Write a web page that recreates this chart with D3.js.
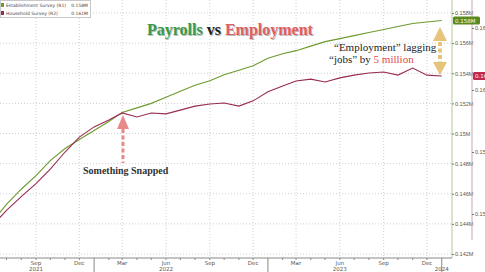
<!DOCTYPE html>
<html>
<head>
<meta charset="utf-8">
<script src="https://cdn.jsdelivr.net/npm/d3@7"></script>
<style>
  body { margin: 0; background: #fff; }
  svg { display: block; }
</style>
</head>
<body>
<div id="chart"></div>
<script>
// payrolls vs household employment, monthly Jun 2021 - Jan 2024 (values in "M" as on the bloomberg axis)
var months = ["2021-06","2021-07","2021-08","2021-09","2021-10","2021-11","2021-12",
  "2022-01","2022-02","2022-03","2022-04","2022-05","2022-06","2022-07","2022-08","2022-09","2022-10","2022-11","2022-12",
  "2023-01","2023-02","2023-03","2023-04","2023-05","2023-06","2023-07","2023-08","2023-09","2023-10","2023-11","2023-12",
  "2024-01"];
var payrolls = [0.1441,0.1453,0.1463,0.1472,0.1482,0.1490,0.1496,
  0.1502,0.1508,0.1514,0.1517,0.1520,0.1524,0.1528,0.1532,0.1535,0.1539,0.1542,0.1545,
  0.1550,0.1553,0.1555,0.1558,0.1561,0.1563,0.1565,0.1567,0.1569,0.1571,0.1573,0.1574,
  0.1575];
var household = [0.15661,0.15712,0.15756,0.15798,0.15845,0.15900,0.15948,
  0.15981,0.16003,0.16026,0.16013,0.16026,0.16023,0.16035,0.16048,0.16055,0.16058,0.16048,0.16065,
  0.16094,0.16113,0.16129,0.16135,0.16126,0.16139,0.16148,0.16155,0.16158,0.16148,0.16171,0.16148,
  0.16145];
var r1Ticks = [0.142,0.144,0.146,0.148,0.15,0.152,0.154,0.156,0.158];
var r2Ticks = [0.157,0.159,0.161,0.163];
var seriesNames = ["Establishment Survey (R1)","Household Survey (R2)"];

var width = 485, height = 272;
var plotRight = 452, plotBottom = 258;
var payColor = "#6e9a2e", houseColor = "#982c50";
var gridColor = "#cfcfcf", axisText = "#555";

var parse = d3.timeParse("%Y-%m");
var dates = months.map(parse);

var svg = d3.select("#chart").append("svg")
  .attr("width", width)
  .attr("height", height)
  .style("font-family", "'DejaVu Sans', sans-serif");

// scales
var x = d3.scaleTime()
  .domain([new Date(2021,8,1), new Date(2023,11,1)])
  .range([36,427]);
var y1 = d3.scaleLinear().domain([0.142,0.158]).range([254,13]);
var y2 = d3.scaleLinear().domain([0.157,0.163]).range([214,28]);
var fmt = function(v) { return (+v.toFixed(3)) + "M"; };

svg.append("defs").append("clipPath").attr("id","plot")
  .append("rect").attr("x",0).attr("y",0).attr("width",plotRight).attr("height",plotBottom);

// gridlines (Mar/Jun/Sep/Dec)
var allMonths = d3.timeMonth.range(new Date(2021,5,1), new Date(2024,1,1))
  .filter(function(d) { return x(d) >= 0; });
var quarters = allMonths.filter(function(d) { return d.getMonth() % 3 == 2; });
svg.append("g").selectAll("line").data(quarters).enter().append("line")
  .attr("x1", function(d) { return x(d); }).attr("x2", function(d) { return x(d); })
  .attr("y1", 0).attr("y2", plotBottom)
  .attr("stroke", gridColor).attr("stroke-dasharray","1,2").attr("stroke-width",1);
svg.append("g").selectAll("line").data(r1Ticks).enter().append("line")
  .attr("x1", 0).attr("x2", plotRight)
  .attr("y1", function(d) { return y1(d); }).attr("y2", function(d) { return y1(d); })
  .attr("stroke", gridColor).attr("stroke-dasharray","1,2").attr("stroke-width",1);

// x axis
var xg = svg.append("g");
xg.append("line").attr("x1",0).attr("x2",plotRight).attr("y1",plotBottom).attr("y2",plotBottom)
  .attr("stroke","#888");
xg.selectAll(".mt").data(allMonths).enter().append("line")
  .attr("x1", function(d) { return x(d); }).attr("x2", function(d) { return x(d); })
  .attr("y1", plotBottom).attr("y2", function(d) { return d.getMonth() == 0 ? height : plotBottom + 2; })
  .attr("stroke", "#888");
xg.selectAll(".ml").data(quarters).enter().append("text")
  .attr("x", function(d) { return x(d); }).attr("y", 265)
  .attr("text-anchor","middle").attr("font-size",5.5).attr("fill",axisText)
  .text(d3.timeFormat("%b"));
var years = [[new Date(2021,8,1),"2021"],[new Date(2022,5,1),"2022"],[new Date(2023,5,1),"2023"],[new Date(2024,0,1),"2024"]];
xg.selectAll(".yl").data(years).enter().append("text")
  .attr("x", function(d) { return x(d[0]); }).attr("y", 271)
  .attr("text-anchor","middle").attr("font-size",5.5).attr("fill",axisText)
  .text(function(d) { return d[1]; });

// right axes
var a1 = d3.axisRight(y1).tickValues(r1Ticks).tickSize(2).tickFormat(fmt);
svg.append("g").attr("transform","translate(" + plotRight + ",0)").call(a1)
  .call(function(g) {
    g.select(".domain").attr("stroke","#b9c79a").attr("d","M0,0V" + plotBottom);
    g.selectAll(".tick line").attr("stroke","#777");
    g.selectAll("text").attr("font-size",5.5).attr("fill",axisText).attr("x",3);
  });
var a2 = d3.axisRight(y2).tickValues(r2Ticks).tickSize(2).tickFormat(fmt);
svg.append("g").attr("transform","translate(472,0)").call(a2)
  .call(function(g) {
    g.select(".domain").attr("stroke","#c9a9b2").attr("d","M0,0V" + 240);
    g.selectAll(".tick line").attr("stroke","#777");
    g.selectAll("text").attr("font-size",5.5).attr("fill",axisText).attr("x",3);
  });

// lines
var plot = svg.append("g").attr("clip-path","url(#plot)");
plot.append("path").datum(payrolls)
  .attr("fill","none").attr("stroke",payColor).attr("stroke-width",1.1)
  .attr("d", d3.line().x(function(d,i) { return x(dates[i]); }).y(function(d) { return y1(d); }));
plot.append("path").datum(household)
  .attr("fill","none").attr("stroke",houseColor).attr("stroke-width",1.1)
  .attr("d", d3.line().x(function(d,i) { return x(dates[i]); }).y(function(d) { return y2(d); }));

// last value boxes
var lastP = payrolls[payrolls.length-1], lastH = household[household.length-1];
svg.append("rect").attr("x",453).attr("y",y1(lastP)-4).attr("width",27).attr("height",8).attr("rx",1.5).attr("fill","#5a8a1e");
svg.append("text").attr("x",455).attr("y",y1(lastP)+2).attr("font-size",5.5).attr("fill","#fff").text(fmt(lastP));
svg.append("rect").attr("x",473).attr("y",y2(lastH)-4).attr("width",27).attr("height",8).attr("rx",1.5).attr("fill","#c0284e");
svg.append("text").attr("x",475).attr("y",y2(lastH)+2).attr("font-size",5.5).attr("fill","#fff").text(fmt(lastH));

// legend
var lg = svg.append("g");
lg.append("rect").attr("x",0.5).attr("y",0.5).attr("width",90).attr("height",17)
  .attr("fill","#fff").attr("stroke","#c8c8c8");
[[payColor,seriesNames[0],lastP],[houseColor,seriesNames[1],lastH]].forEach(function(r,i) {
  lg.append("rect").attr("x",1).attr("y",3 + i*8).attr("width",3).attr("height",4).attr("fill",r[0]);
  lg.append("text").attr("x",6).attr("y",7 + i*8).attr("font-size",4.5).attr("fill","#444").text(r[1]);
  lg.append("text").attr("x",88).attr("y",7 + i*8).attr("font-size",4.5).attr("fill","#444")
    .attr("text-anchor","end").text(fmt(r[2]));
});

// title
var serif = "'Liberation Serif', 'DejaVu Serif', serif";
function shadowText(xp, yp, size, parts, anchor) {
  [["#bbb",1],[null,0]].forEach(function(layer) {
    var t = svg.append("text").attr("x",xp + layer[1]).attr("y",yp + layer[1])
      .attr("font-family",serif).attr("font-weight","bold").attr("font-size",size)
      .attr("text-anchor",anchor || "start");
    parts.forEach(function(p) {
      t.append("tspan").attr("fill", layer[0] || p[1]).text(p[0]);
    });
  });
}
shadowText(147, 35, 16, [["Payrolls","#3a9a48"],[" vs ","#222"],["Employment","#e06060"]]);

// annotations
svg.append("text").attr("x",334).attr("y",51).attr("font-family",serif).attr("font-size",11).attr("fill","#222")
  .text("\u201cEmployment\u201d lagging");
var t2 = svg.append("text").attr("x",329).attr("y",63).attr("font-family",serif).attr("font-size",11).attr("fill","#222");
t2.append("tspan").text("\u201cjobs\u201d by ");
t2.append("tspan").attr("fill","#e04848").text("5 million");

svg.append("text").attr("x",83).attr("y",174).attr("font-family",serif).attr("font-weight","bold")
  .attr("font-size",10).attr("fill","#333").text("Something Snapped");

// gold double arrow
var gold = "#e6c47c";
svg.append("line").attr("x1",440).attr("x2",440).attr("y1",42).attr("y2",62)
  .attr("stroke",gold).attr("stroke-width",4).attr("stroke-dasharray","4,2.5");
svg.append("path").attr("d","M440,27L447,41L433,41Z").attr("fill",gold);
svg.append("path").attr("d","M440,75L447,62L433,62Z").attr("fill",gold);

// red arrow
var pink = "#e88a8a";
svg.append("line").attr("x1",123).attr("x2",123).attr("y1",129).attr("y2",163)
  .attr("stroke",pink).attr("stroke-width",3).attr("stroke-dasharray","4,2.5");
svg.append("path").attr("d","M123,115L129,129L117,129Z").attr("fill",pink);
</script>
</body>
</html>
